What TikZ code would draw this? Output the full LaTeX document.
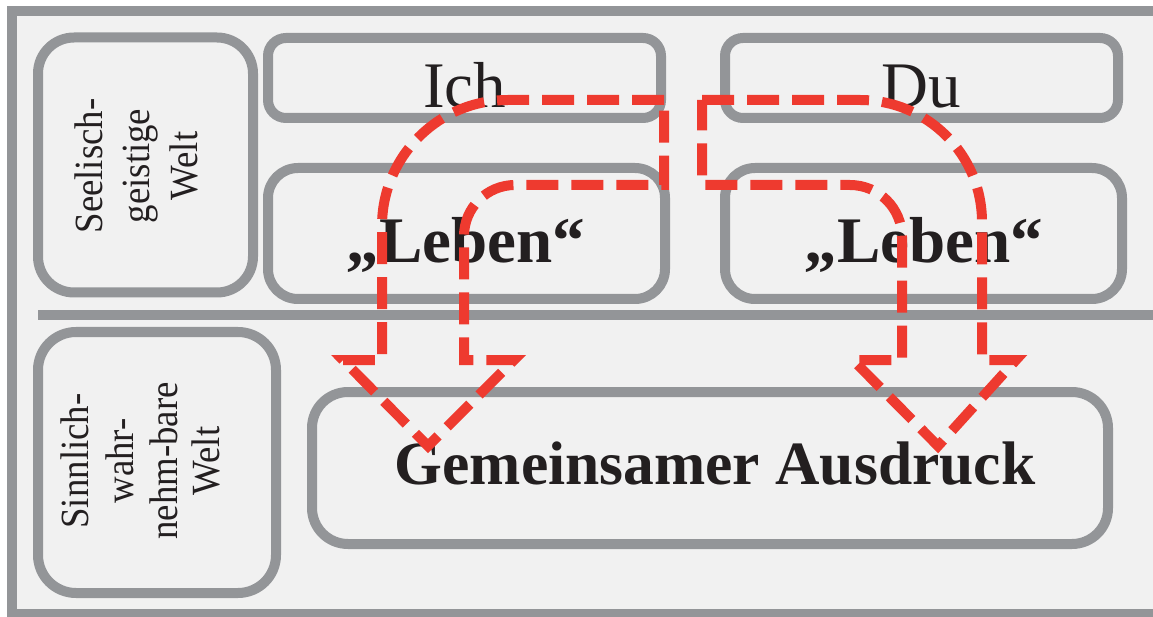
\documentclass[tikz,border=0pt]{standalone}
\usepackage{fontspec}
\setmainfont{Liberation Serif}
\newfontfamily\sidefont{Liberation Serif}[FakeStretch=0.92]
\definecolor{rim}{HTML}{939598}
\definecolor{panel}{HTML}{F1F1F1}
\definecolor{ink}{HTML}{231F20}
\definecolor{flow}{HTML}{EE3A2F}
\tikzset{
  rimline/.style={draw=rim, line width=10pt},
  box/.style={rectangle, rimline, fill=panel, inner sep=0pt, outer sep=0pt},
  bigtext/.style={text=ink, inner sep=0pt, anchor=base, font=\fontsize{65}{78}\selectfont},
  boldtext/.style={bigtext, font=\fontsize{65}{78}\selectfont\bfseries},
  sidetext/.style={text=ink, inner sep=0pt, anchor=base, rotate=90, font=\sidefont\fontsize{40}{48}\selectfont},
  flowline/.style={draw=flow, line width=10pt, dash pattern=on 32pt off 13pt}
}
\begin{document}
\begin{tikzpicture}[x=1pt, y=-1pt]
\useasboundingbox (0,0) rectangle (1153,617);
\fill[white] (0,0) rectangle (1153,617);
\begin{scope}
  \clip (0,0) rectangle (1153,617);
  % outer frame, open to the right
  \draw[rimline, fill=panel] (12,11) rectangle (1190,614);
  % divider between the two worlds
  \draw[rimline] (38,315) -- (1190,315);
\end{scope}

% side boxes
\node[box, rounded corners=36pt, minimum width=215pt, minimum height=255pt] (seele) at (145.5,165) {};
\node[box, rounded corners=38pt, minimum width=238pt, minimum height=261pt] (sinn) at (157,462.5) {};

% upper boxes
\node[box, rounded corners=18pt, minimum width=393pt, minimum height=80pt] (ich) at (464.5,78) {};
\node[box, rounded corners=18pt, minimum width=393pt, minimum height=80pt] (du) at (921.5,78) {};
\node[box, rounded corners=30pt, minimum width=397pt, minimum height=131pt] (lebenL) at (466.5,233.5) {};
\node[box, rounded corners=30pt, minimum width=397pt, minimum height=131pt] (lebenR) at (923.5,233.5) {};

% lower box
\node[box, rounded corners=36pt, minimum width=796pt, minimum height=152pt] (ausdruck) at (710,468) {};

% side labels
\node[sidetext] (s1) at (102,166) {Seelisch-};
\node[sidetext] (s2) at (149,166) {geistige};
\node[sidetext] (s3) at (197,166) {Welt};
\node[sidetext] (n1) at (88,461) {Sinnlich-};
\node[sidetext] (n2) at (133,461) {wahr-};
\node[sidetext] (n3) at (177,461) {nehm-bare};
\node[sidetext] (n4) at (219,461) {Welt};

% box labels
\node[bigtext] (tich) at (464.5,108) {Ich};
\node[bigtext] (tdu) at (921.5,108) {Du};
\node[boldtext] (tlebenL) at (466,263) {„Leben“};
\node[boldtext] (tlebenR) at (924,263) {„Leben“};
\node[boldtext, font=\fontsize{61.5}{74}\selectfont\bfseries] (taus) at (715,484) {Gemeinsamer Ausdruck};

% bent block arrows, outlined with dashes
\draw[flowline] (664,100) -- (508,100)
  arc[start angle=270, end angle=180, radius=126]
  -- (382,360) -- (343,360) -- (428,446) -- (514,360) -- (464,360)
  -- (464,236) arc[start angle=180, end angle=270, radius=51]
  -- (664,185) -- cycle;
\draw[flowline] (702,100) -- (860,100)
  arc[start angle=270, end angle=360, radius=122]
  -- (982,360) -- (1016,360) -- (938,446) -- (853,360) -- (902,360)
  -- (902,237) arc[start angle=0, end angle=-90, radius=52]
  -- (702,185) -- cycle;
\end{tikzpicture}
\end{document}
